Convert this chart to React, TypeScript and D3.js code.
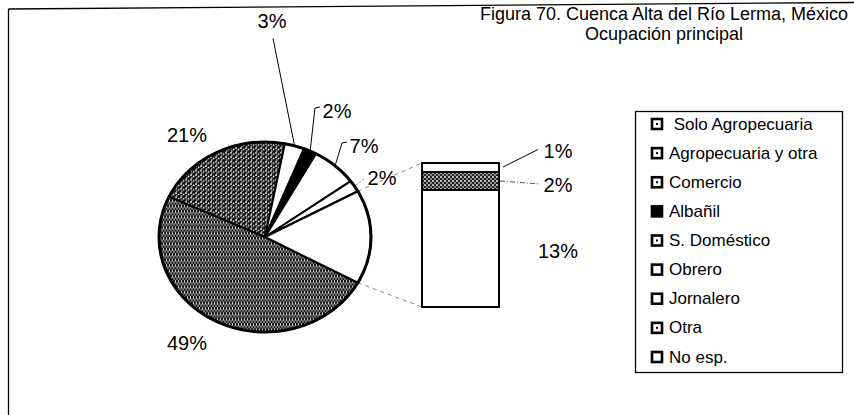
import React from 'react';
import * as d3 from 'd3';

// categorias y valores (%)
const categories = ['Solo Agropecuaria', 'Agropecuaria y otra', 'Comercio', 'Albañil', 'S. Doméstico', 'Obrero', 'Jornalero', 'Otra', 'No esp.'];
const values = [49, 21, 3, 2, 7, 2, 13, 2, 1];
// los primeros 6 van en el pastel, el resto en la barra
const splitIndex = 6;
const titleLines = ['Figura 70. Cuenca Alta del Río Lerma, México', 'Ocupación principal'];

const fills = ['url(#pat49)', 'url(#pat21)', '#fff', '#000', '#fff', '#fff', '#fff', 'url(#patOtra)', '#fff'];
const swatchDot = [true, true, true, false, true, false, false, true, false];

// posiciones de etiquetas del pastel (unidades del radio)
const pieLabelLayout = [
  { ux: -0.736, uy: 1.116, leader: 'none' },
  { ux: -0.736, uy: -1.074, leader: 'none' },
  { ux: 0.066, uy: -2.27, leader: 'straight' },
  { ux: 0.679, uy: -1.326, leader: 'elbow' },
  { ux: 0.934, uy: -0.958, leader: 'elbow' },
  { ux: 1.104, uy: -0.621, leader: 'dash' },
];
const barLabelDy = [2.5, 4, -17];

const App = () => {
  const width = 854;
  const height = 415;
  const cx = 265, cy = 237, rx = 106, ry = 95;
  const font = 'Liberation Sans, Arial, Helvetica, sans-serif';

  const pieVals = values.slice(0, splitIndex);
  const barVals = values.slice(splitIndex);
  const barTotal = d3.sum(barVals);
  const otherAngle = (2 * Math.PI * barTotal) / d3.sum(values);
  const start = Math.PI / 2 + otherAngle / 2;

  const pie = d3.pie<number>().sort(null).value((d) => d).startAngle(start).endAngle(start + 2 * Math.PI);
  const arcs = pie([...pieVals, barTotal]);
  const arc = d3.arc<d3.PieArcDatum<number>>().innerRadius(0).outerRadius(rx);

  // punto en el borde de la elipse
  const edge = (a: number) => [cx + rx * Math.sin(a), cy - ry * Math.cos(a)];

  // barra
  const barX0 = 422, barX1 = 499;
  const yBar = d3.scaleLinear().domain([0, barTotal]).range([307, 163]);
  const stacked = d3.cumsum(barVals);
  const barSegs = barVals.map((v, i) => ({ v, y0: stacked[i] - v, y1: stacked[i], i: i + splitIndex }));

  const otherArc = arcs[arcs.length - 1];
  const topPt = edge(otherArc.startAngle);
  const botPt = edge(otherArc.endAngle);

  // leyenda
  const yLeg = d3.scaleLinear().domain([0, categories.length - 1]).range([124, 357]);

  return (
    <svg width={width} height={height} style={{ position: 'absolute', left: 0, top: 0, background: '#fff' }} fontFamily={font}>
      <defs>
        <pattern id="pat49" width="3" height="6" patternUnits="userSpaceOnUse">
          <rect width="3" height="6" fill="#111" />
          <path d="M0.5,0 v3.5 M2,2.5 v3.5 M2,-1 v0.5" stroke="#fff" strokeWidth="0.75" />
        </pattern>
        <pattern id="pat21" width="5" height="5" patternUnits="userSpaceOnUse">
          <rect width="5" height="5" fill="#111" />
          <circle cx="1" cy="1" r="0.95" fill="#fff" />
          <circle cx="3.6" cy="2.4" r="0.85" fill="#fff" />
          <circle cx="1.8" cy="4.1" r="0.75" fill="#fff" />
        </pattern>
        <pattern id="patOtra" width="4" height="4" patternUnits="userSpaceOnUse">
          <rect width="4" height="4" fill="#222" />
          <circle cx="1" cy="1" r="0.9" fill="#fff" />
          <circle cx="3" cy="3" r="0.8" fill="#fff" />
        </pattern>
      </defs>

      {/* marco (ligeramente inclinado como en el escaneo) */}
      <line x1={8.5} y1={9} x2={width} y2={2.5} stroke="#000" strokeWidth={1.3} />
      <line x1={8.5} y1={9} x2={8.5} y2={height} stroke="#000" strokeWidth={1.3} />

      {/* titulo */}
      {titleLines.map((t, i) => (
        <text key={t} x={664} y={20 + i * 20} textAnchor="middle" fontSize={18}>{t}</text>
      ))}

      {/* lineas conectoras */}
      <line x1={topPt[0]} y1={topPt[1]} x2={barX0} y2={yBar(barTotal)} stroke="#888" strokeWidth={1} strokeDasharray="4,4" />
      <line x1={botPt[0]} y1={botPt[1]} x2={barX0} y2={yBar(0)} stroke="#888" strokeWidth={1} strokeDasharray="4,4" />

      {/* pastel */}
      <g transform={`translate(${cx},${cy}) scale(1,${ry / rx})`}>
        {arcs.map((a, i) => (
          <path key={i} d={arc(a) as string} fill={i < splitIndex ? fills[i] : '#fff'} stroke="#000" strokeWidth={2} vectorEffect="non-scaling-stroke" strokeLinejoin="round" />
        ))}
        <circle r={rx} fill="none" stroke="#000" strokeWidth={3} vectorEffect="non-scaling-stroke" />
      </g>

      {/* etiquetas del pastel */}
      {pieVals.map((v, i) => {
        const L = pieLabelLayout[i];
        const lx = cx + L.ux * rx;
        const ly = cy + L.uy * ry;
        const a = arcs[i];
        const e = edge((a.startAngle + a.endAngle) / 2);
        let leader = null;
        if (L.leader === 'straight') {
          leader = <line x1={lx + 1} y1={ly + 17} x2={e[0]} y2={e[1]} stroke="#000" strokeWidth={1} />;
        } else if (L.leader === 'elbow') {
          leader = <polyline points={`${lx - 17},${ly - 4} ${lx - 22},${ly - 3} ${e[0]},${e[1]}`} fill="none" stroke="#000" strokeWidth={1} />;
        } else if (L.leader === 'dash') {
          leader = <line x1={lx - 18} y1={ly + 1} x2={e[0]} y2={e[1]} stroke="#888" strokeWidth={1} strokeDasharray="2,2" />;
        }
        return (
          <g key={i}>
            {leader}
            <text x={lx} y={ly} textAnchor="middle" dominantBaseline="central" fontSize={20}>{`${v}%`}</text>
          </g>
        );
      })}

      {/* barra */}
      {barSegs.map((s) => (
        <rect key={s.i} x={barX0} y={yBar(s.y1)} width={barX1 - barX0} height={yBar(s.y0) - yBar(s.y1)} fill={fills[s.i]} stroke="#000" strokeWidth={2} />
      ))}
      {barSegs.map((s, j) => {
        const ym = (yBar(s.y0) + yBar(s.y1)) / 2;
        const lx = barX1 + 59;
        const ly = ym + barLabelDy[j];
        return (
          <g key={'bl' + s.i}>
            {j === 2 && <line x1={barX1 + 4} y1={yBar(s.y0) - 5} x2={lx - 20} y2={ly - 1} stroke="#000" strokeWidth={1} />}
            {j === 1 && <line x1={barX1 + 1} y1={ym} x2={lx - 18} y2={ly - 1} stroke="#555" strokeWidth={1} strokeDasharray="5,2,1,2" />}
            <text x={lx} y={ly} textAnchor="middle" dominantBaseline="central" fontSize={20}>{`${s.v}%`}</text>
          </g>
        );
      })}

      {/* leyenda */}
      <rect x={635.5} y={111.5} width={207} height={261} fill="#fff" stroke="#000" strokeWidth={1.3} />
      {categories.map((c, i) => {
        const y = yLeg(i);
        return (
          <g key={c}>
            <rect x={652} y={y - 5} width={10} height={10} fill={i === 3 ? '#000' : '#fff'} stroke="#000" strokeWidth={2.6} />
            {swatchDot[i] && i !== 3 && <rect x={656} y={y - 1} width={2} height={2} fill="#000" />}
            <text x={669} y={y} dominantBaseline="central" fontSize={17} style={{ whiteSpace: 'pre' }}>{i === 0 ? ' ' + c : c}</text>
          </g>
        );
      })}
    </svg>
  );
};

export default App;
